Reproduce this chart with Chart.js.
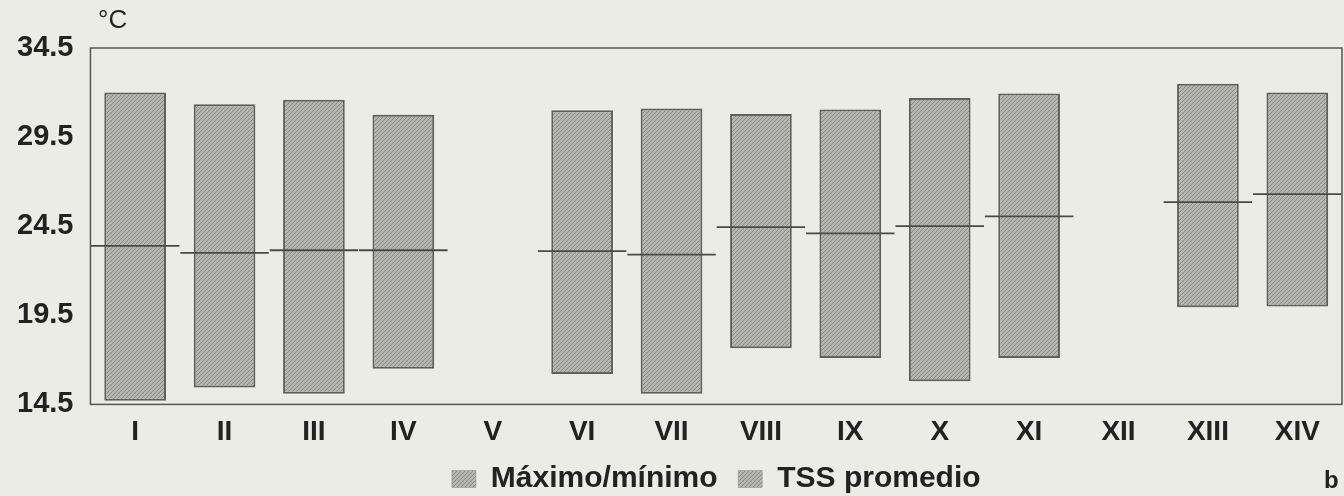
<!DOCTYPE html>
<html>
<head>
<meta charset="utf-8">
<script src="https://cdn.jsdelivr.net/npm/chart.js@4"></script>
<style>
  html, body { margin: 0; padding: 0; background: #ecece7; }
  #wrap { position: relative; width: 1344px; height: 496px; }
  .txt { position: absolute; font-family: "Liberation Sans", Arial, sans-serif; color: #222; }
  #unit { left: 98px; top: 4px; font-size: 26px; }
  #letra { left: 1324px; top: 466px; font-size: 24px; font-weight: bold; }
</style>
</head>
<body>
<div id="wrap">
  <canvas id="myChart" width="1344" height="496"></canvas>
  <div class="txt" id="unit">°C</div>
  <div class="txt" id="letra">b</div>
</div>
<script>
const categorias = ['I', 'II', 'III', 'IV', 'V', 'VI', 'VII', 'VIII', 'IX', 'X', 'XI', 'XII', 'XIII', 'XIV'];
const minimos = [14.7, 15.45, 15.1, 16.5, null, 16.2, 15.1, 17.65, 17.1, 15.8, 17.1, null, 19.95, 20.0];
const maximos = [32.0, 31.35, 31.6, 30.75, null, 31.0, 31.1, 30.8, 31.05, 31.7, 31.95, null, 32.5, 32.0];
const promedios = [23.4, 23.0, 23.15, 23.15, null, 23.1, 22.9, 24.45, 24.1, 24.5, 25.05, null, 25.85, 26.3];
const ticksY = [14.5, 19.5, 24.5, 29.5, 34.5];

// relleno rayado tipo impresion
const patron = (() => {
    const c = document.createElement('canvas');
    c.width = 4; c.height = 4;
    const g = c.getContext('2d');
    g.fillStyle = '#b4b4b0';
    g.fillRect(0, 0, 4, 4);
    g.strokeStyle = '#8c8c88';
    g.lineWidth = 1;
    g.beginPath();
    g.moveTo(0, 4); g.lineTo(4, 0);
    g.moveTo(-2, 2); g.lineTo(2, -2);
    g.moveTo(2, 6); g.lineTo(6, 2);
    g.stroke();
    return g.createPattern(c, 'repeat');
})();

const rangos = categorias.map((c, i) => minimos[i] == null ? null : [minimos[i], maximos[i]]);
const lineas = categorias.map((c, i) => promedios[i] == null ? null : [promedios[i] - 0.05, promedios[i] + 0.05]);

const marco = {
    id: 'marco',
    afterDraw(chart) {
        const { ctx, chartArea: a } = chart;
        ctx.save();
        ctx.strokeStyle = '#555';
        ctx.lineWidth = 1.5;
        ctx.strokeRect(a.left, a.top, a.right - a.left, a.bottom - a.top);
        ctx.restore();
    }
};

const ctx = document.getElementById('myChart').getContext('2d');
const myChart = new Chart(ctx, {
    type: 'bar',
    data: {
        labels: categorias,
        datasets: [{
            label: 'Máximo/mínimo',
            data: rangos,
            backgroundColor: patron,
            borderColor: '#5e5e5b',
            borderWidth: 2,
            borderSkipped: false,
            barPercentage: 0.69,
            categoryPercentage: 1,
            grouped: false,
            order: 1
        }, {
            label: 'TSS promedio',
            data: lineas,
            backgroundColor: '#4a4a48',
            borderWidth: 0,
            barPercentage: 0.99,
            categoryPercentage: 1,
            grouped: false,
            order: 0
        }]
    },
    options: {
        responsive: false,
        animation: false,
        layout: { padding: { top: 48, right: 2, left: 0, bottom: -8 } },
        scales: {
            x: {
                grid: { display: false, drawTicks: false },
                border: { display: false },
                ticks: {
                    color: '#222',
                    padding: 11,
                    font: { family: 'Liberation Sans', size: 28, weight: 'bold' }
                }
            },
            y: {
                min: 14.5,
                max: 34.5,
                afterBuildTicks: (axis) => { axis.ticks = ticksY.map(v => ({ value: v })); },
                grid: { display: false, drawTicks: false },
                border: { display: false },
                ticks: {
                    color: '#222',
                    padding: 17,
                    callback: (v) => v.toFixed(1),
                    font: { family: 'Liberation Sans', size: 29, weight: 'bold' }
                }
            }
        },
        plugins: {
            legend: {
                position: 'bottom',
                fullSize: false,
                labels: {
                    sort: (a, b) => a.datasetIndex - b.datasetIndex,
                    color: '#222',
                    boxWidth: 24,
                    boxHeight: 17,
                    padding: 4,
                    font: { family: 'Liberation Sans', size: 30, weight: 'bold' },
                    generateLabels: (chart) => chart.data.datasets.map((d, i) => ({
                        text: i === 0 ? d.label + '\u00a0\u00a0' : d.label,
                        fillStyle: patron,
                        strokeStyle: '#888',
                        lineWidth: 0.5,
                        datasetIndex: i,
                        fontColor: '#222'
                    }))
                }
            },
            tooltip: { enabled: false }
        }
    },
    plugins: [marco]
});
</script>
</body>
</html>
